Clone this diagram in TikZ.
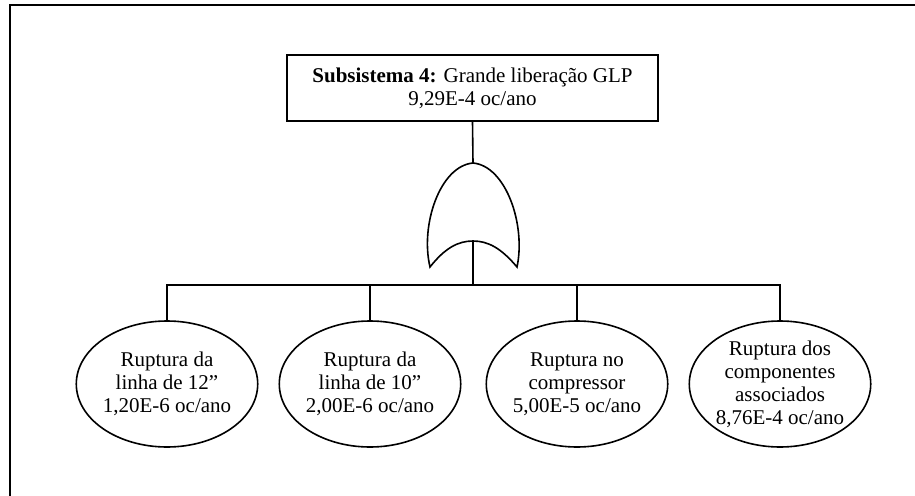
\documentclass[tikz,border=0pt]{standalone}
\usepackage{fontspec}
\setmainfont{Liberation Serif}
\usetikzlibrary{shapes.geometric}
\begin{document}
\begin{tikzpicture}[x=1pt,y=-1pt,
  line width=1.6pt,
  txt/.style={font=\fontsize{21}{23}\selectfont, align=center},
  topevent/.style={txt, draw, rectangle, minimum width=371pt, minimum height=66pt, inner sep=0pt},
  basic/.style={txt, draw, ellipse, minimum width=170pt, minimum height=126pt, inner sep=0pt},
  wire/.style={line width=1.6pt}]
  \useasboundingbox (0,0) rectangle (915,495);
  \fill[white] (0,0) rectangle (915,495);
  % outer frame (top and left edges)
  \draw[line width=2.6pt] (10,496) -- (10,5) -- (916,5);

  % top event
  \node[topevent] (top) at (472.5,88) {\textbf{Subsistema 4:} Grande liberação GLP\\9,29E-4 oc/ano};

  % OR gate
  \coordinate (gtop) at (473,163);
  \coordinate (gbot) at (473,241);
  \draw (gtop) .. controls (440,166) and (420,225) .. (430,267)
        .. controls (445,248) and (458,241) .. (gbot)
        .. controls (488,241) and (501,248) .. (517,267)
        .. controls (526,225) and (506,166) .. (gtop);

  % basic events
  \node[basic] (e1) at (167,384) {Ruptura da\\linha de 12''\\1,20E-6 oc/ano};
  \node[basic] (e2) at (370,384) {Ruptura da\\linha de 10''\\2,00E-6 oc/ano};
  \node[basic] (e3) at (577,384) {Ruptura no\\compressor\\5,00E-5 oc/ano};
  \node[basic] (e4) at (780,384) {Ruptura dos\\componentes\\associados\\8,76E-4 oc/ano};

  % connectors
  \coordinate (bus) at (473,285);
  \draw[wire] (top.south) -- (gtop);
  \draw[wire] (gbot) -- (bus);
  \draw[wire] (e1.north) |- (bus);
  \draw[wire] (e4.north) |- (bus);
  \draw[wire] (e2.north) -- (e2.north |- bus);
  \draw[wire] (e3.north) -- (e3.north |- bus);
\end{tikzpicture}
\end{document}
